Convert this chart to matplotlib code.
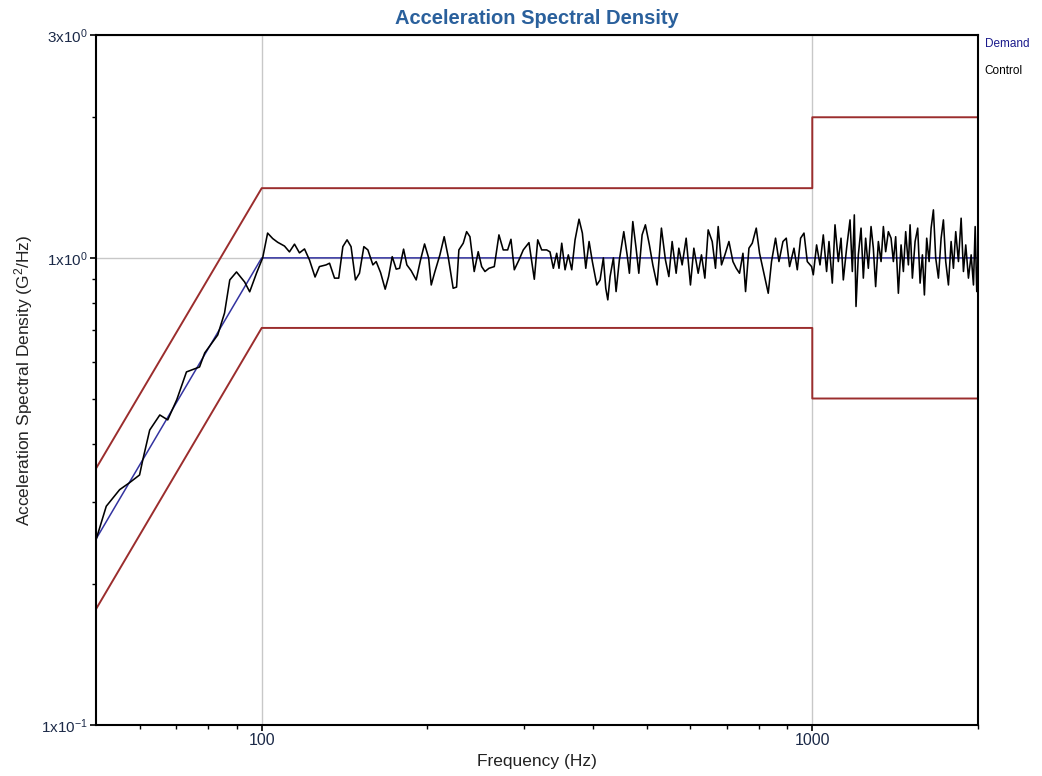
import matplotlib
matplotlib.use('Agg')
import matplotlib.pyplot as plt
from matplotlib.ticker import FixedLocator, FixedFormatter, NullFormatter
import numpy as np

plt.rcParams['font.family'] = ['Liberation Sans', 'DejaVu Sans']
plt.rcParams['mathtext.default'] = 'regular'

# demand profile and +/- limits
demand_freq = [50, 100, 2000]
demand_psd = [0.25, 1.0, 1.0]

limit_freq = [50, 100, 1000, 1000, 2000]
upper_psd = [0.354, 1.41, 1.41, 2.0, 2.0]
lower_psd = [0.177, 0.708, 0.708, 0.5, 0.5]

# control spectrum
control_freq = [
    50.0, 52.2, 55.2, 57.5, 60.0, 60.8, 62.6, 65.3, 67.5, 70.1, 73.0, 77.1, 78.8, 83.2, 85.6,
    87.5, 90.0, 93.1, 95.1, 97.9, 100.4,
    102.5, 104.7, 106.9, 110.0, 112.3, 114.7, 117.1, 119.6, 122.1, 125.0, 127.3, 130.9, 132.8,
    135.6, 138.0, 140.4, 142.9, 145.3, 148.0, 150.5, 153.3, 155.9, 159.2, 161.4, 164.4, 167.6,
    170.0, 172.6, 175.5, 178.0, 181.0, 183.5, 186.8, 190.8, 194.3, 197.6, 201.0, 203.2, 206.1,
    210.7, 214.5, 218.1, 222.7, 225.9, 228.1, 232.3, 235.6, 238.9, 243.2, 247.3, 250.9, 254.4,
    258.7, 264.5, 269.7, 274.6, 279.7, 283.6, 287.6, 293.3, 298.6, 305.8, 312.7, 317.2, 322.5,
    329.3, 333.9, 338.6, 343.4, 346.7, 350.7, 355.6, 360.5, 365.7, 370.8, 377.0, 382.3, 387.8,
    393.2, 398.6, 406.1, 411.7, 417.4, 421.6, 425.2, 429.3, 435.3,
    440.2, 446.3, 454.6, 461.0, 465.4, 472.1, 478.6, 484.1, 490.8, 497.6, 506.0, 513.3, 522.6,
    532.1, 541.1, 548.9, 556.5, 565.9, 572.3, 580.3, 590.1, 600.8, 609.4, 620.5, 629.1, 638.1,
    647.0, 658.0, 667.1, 674.7, 684.1, 693.9, 705.7, 717.6, 727.6, 737.7, 748.3, 756.5, 767.3,
    778.0, 791.1, 802.1, 817.0, 831.8, 843.3, 857.6, 869.9, 884.6, 896.9, 909.4, 926.3, 939.2,
    952.3, 965.9, 979.3, 997.1,
    1004.2, 1018.2, 1032.8, 1047.1, 1061.7, 1072.4, 1087.3, 1099.7, 1115.0, 1127.7, 1138.6,
    1154.4, 1171.0, 1182.3, 1192.2, 1200.7, 1212.4, 1226.2, 1238.0, 1250.0, 1264.2, 1278.6,
    1290.9, 1303.4, 1318.3, 1333.3, 1346.2, 1359.2, 1374.6, 1390.2, 1403.7, 1417.3, 1433.4,
    1449.7, 1463.7, 1477.9, 1494.7, 1505.3, 1519.9, 1537.2, 1554.0, 1569.7, 1584.9, 1598.2,
    1613.7, 1630.0, 1643.7, 1659.6, 1675.6, 1694.7, 1714.0, 1730.5, 1747.3, 1767.2, 1787.2,
    1804.5, 1822.0, 1842.7, 1863.6, 1881.7, 1899.9, 1921.5, 1943.4, 1962.2, 1976.2, 1989.5,
    2000.0,
]
control_psd = [
    0.249, 0.294, 0.319, 0.330, 0.343, 0.369, 0.428, 0.461, 0.450, 0.497, 0.570, 0.584, 0.626,
    0.684, 0.762, 0.897, 0.933, 0.888, 0.846, 0.929, 1.0,
    1.13, 1.10, 1.08, 1.06, 1.03, 1.07, 1.025, 1.045, 0.99, 0.91, 0.958, 0.966, 0.974,
    0.905, 0.905, 1.057, 1.093, 1.057, 0.897, 0.927, 1.057, 1.04, 0.966, 0.982, 0.93, 0.857,
    0.912, 1.006, 0.946, 0.95, 1.044, 0.966, 0.939, 0.897, 0.99, 1.071, 1.0, 0.875, 0.93,
    1.015, 1.11, 1.006, 0.861, 0.866, 1.04, 1.075, 1.138, 1.11, 0.935, 1.031, 0.958, 0.935,
    0.95, 0.958, 1.12, 1.04, 1.04, 1.096, 0.943, 0.99, 1.04, 1.078, 0.9, 1.093, 1.04,
    1.04, 1.03, 0.95, 1.023, 0.95, 1.075, 0.943, 1.015, 0.943, 1.093, 1.21, 1.13, 0.95,
    1.084, 0.982, 0.875, 0.897, 1.0, 0.861, 0.813, 0.912, 1.0,
    0.847, 0.99, 1.138, 1.015, 0.927, 1.196, 1.049, 0.927, 1.12, 1.177, 1.066, 0.966, 0.875,
    1.158, 0.99, 0.912, 1.084, 0.927, 1.049, 0.966, 1.102, 0.875, 1.049, 0.927, 1.015, 0.905,
    1.148, 1.084, 0.95, 1.167, 0.966, 1.015, 1.084, 0.982, 0.95, 0.927, 1.023, 0.847, 1.049,
    1.075, 1.158, 1.023, 0.927, 0.84, 0.982, 1.102, 0.982, 1.084, 1.102, 0.958, 1.049, 0.943,
    1.102, 1.13, 0.982, 0.958,
    0.92, 1.066, 0.966, 1.12, 0.935, 1.084, 0.883, 1.177, 0.982, 1.102, 0.897,
    1.049, 1.206, 0.935, 1.236, 0.787, 1.015, 1.158, 0.905, 1.102, 0.95, 1.167,
    1.049, 0.868, 1.084, 0.982, 1.167, 1.031, 1.138, 1.102, 0.982, 1.11, 0.84,
    1.066, 0.935, 1.138, 0.966, 1.177, 0.905, 1.084, 1.158, 0.883, 1.015, 0.833,
    1.102, 0.982, 1.158, 1.267, 1.0, 0.905, 1.102, 1.206, 0.982, 0.875, 1.084,
    0.95, 1.138, 0.982, 1.216, 0.935, 1.066, 0.905, 1.015, 0.875, 1.167, 0.847,
    0.982,
]

tick_color = '#1c2a48'

fig = plt.figure(figsize=(10.42, 7.76), dpi=100)
ax = fig.add_axes([0.0921, 0.0657, 0.8465, 0.8892])

ax.plot(limit_freq, upper_psd, color='#9b2d2d', lw=1.4)
ax.plot(limit_freq, lower_psd, color='#9b2d2d', lw=1.4)
ax.plot(demand_freq, demand_psd, color='#3333a0', lw=1.1)
ax.plot(control_freq, control_psd, color='black', lw=1.15)

ax.set_xscale('log')
ax.set_yscale('log')
ax.set_xlim(50, 2000)
ax.set_ylim(0.1, 3)

ax.xaxis.set_major_locator(FixedLocator([100, 1000]))
ax.xaxis.set_major_formatter(FixedFormatter(['100', '1000']))
ax.xaxis.set_minor_locator(FixedLocator([60, 70, 80, 90, 200, 300, 400, 500, 600, 700, 800, 900, 2000]))
ax.xaxis.set_minor_formatter(NullFormatter())

ax.yaxis.set_major_locator(FixedLocator([0.1, 1, 3]))
ax.yaxis.set_major_formatter(FixedFormatter([r'1x10$^{-1}$', r'1x10$^{0}$', r'3x10$^{0}$']))
ax.yaxis.set_minor_locator(FixedLocator([0.2, 0.3, 0.4, 0.5, 0.6, 0.7, 0.8, 0.9, 2]))
ax.yaxis.set_minor_formatter(NullFormatter())

ax.tick_params(which='major', direction='out', length=4, width=1.2, labelsize=11.5,
               labelcolor=tick_color, pad=2)
ax.tick_params(which='minor', direction='out', length=3, width=1.0)
ax.tick_params(axis='y', which='major', labelsize=11)

ax.grid(True, which='major', color='#c8c8c8', lw=1.0)
for s in ax.spines.values():
    s.set_linewidth(1.5)

ax.set_title('Acceleration Spectral Density', fontsize=14.5, fontweight='bold',
             color='#2a609c', pad=8)
ax.set_xlabel('Frequency (Hz)', fontsize=12.5, color='#222222', labelpad=4)
ax.set_ylabel('Acceleration Spectral Density (G$^{2}$/Hz)', fontsize=12.5,
              color='#222222', labelpad=4)

fig.text(0.945, 0.943, 'Demand', fontsize=8.5, color='#1a1a8c', va='center')
fig.text(0.945, 0.908, 'Control', fontsize=8.5, color='black', va='center')

fig.savefig('out.png', dpi=100)
